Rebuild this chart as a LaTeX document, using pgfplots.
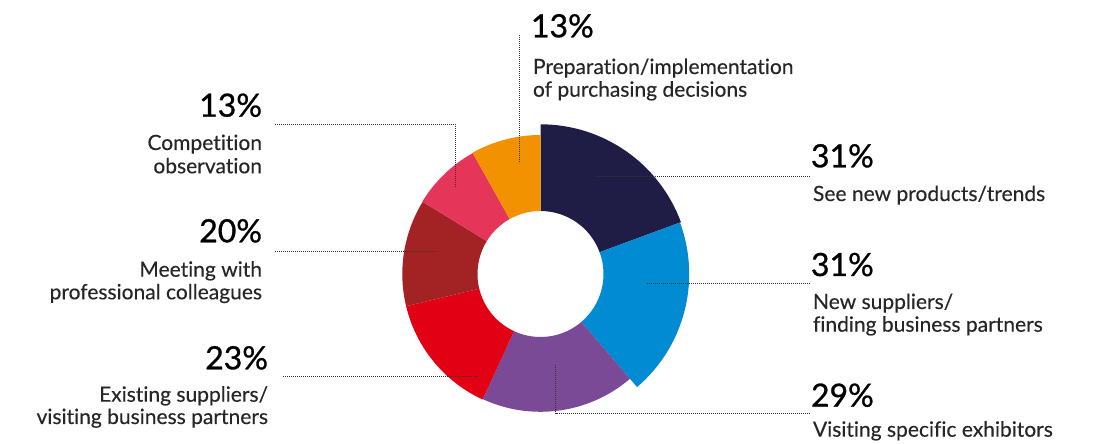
\documentclass[border=0pt]{standalone}
\usepackage{fontspec}
\setmainfont{Lato}[Ligatures={NoCommon,NoRare,NoContextual}]
\newfontfamily\pctfont{Lato}[FakeBold=0.9]
\newfontfamily\lblfont{Lato}[FakeBold=0.25, Ligatures={NoCommon,NoRare,NoContextual}]
\usepackage{pgfplots}
\usepackage{pgfplotstable}
\pgfplotsset{compat=1.18}

\definecolor{cNavy}{RGB}{31,29,70}
\definecolor{cBlue}{RGB}{0,139,210}
\definecolor{cPurple}{RGB}{122,74,151}
\definecolor{cRed}{RGB}{225,0,20}
\definecolor{cDarkRed}{RGB}{163,34,36}
\definecolor{cPink}{RGB}{229,54,90}
\definecolor{cOrange}{RGB}{243,146,0}

% share of respondents (%), outer radius, colour -- clockwise from 12 o'clock
\pgfplotstableread{
name  value r     col
see   31    149.7 cNavy
new   31    148.7 cBlue
visit 29    137.8 cPurple
exist 23    138.2 cRed
meet  20    138.2 cDarkRed
comp  13    138.6 cPink
prep  13    139.0 cOrange
}\slices

\begin{document}
\begin{tikzpicture}
\tikzset{
  leader/.style={black!80, line width=0.9pt, dash pattern=on 0.9pt off 1.1pt},
  pct/.style={inner sep=0pt, outer sep=0pt, font=\pctfont\fontsize{32}{32}\selectfont},
  lbl/.style={inner sep=0pt, outer sep=0pt, text=black!85, font=\lblfont\fontsize{21}{23}\selectfont},
}
\begin{axis}[
    x=1pt, y=1pt,
    xmin=0, xmax=1100, ymin=0, ymax=444,
    axis line style={draw=none},
    xtick=\empty, ytick=\empty,
    clip=false,
]
% donut slices, angles taken from the values (total 160)
\gdef\angA{90}
\pgfplotsinvokeforeach{0,...,6}{%
  \pgfplotstablegetelem{#1}{value}\of\slices \let\slval\pgfplotsretval
  \pgfplotstablegetelem{#1}{r}\of\slices \let\slrad\pgfplotsretval
  \pgfplotstablegetelem{#1}{col}\of\slices \let\slcol\pgfplotsretval
  \pgfmathsetmacro\angB{\angA-\slval*360/160}
  \pgfmathsetmacro\xa{540.5+\slrad*cos(\angA)}
  \pgfmathsetmacro\ya{170+\slrad*sin(\angA)}
  \pgfmathsetmacro\xb{540.5+63*cos(\angB)}
  \pgfmathsetmacro\yb{170+63*sin(\angB)}
  \edef\slice{\noexpand\fill[\slcol] (axis cs:\xa,\ya)
    arc[start angle=\angA, end angle=\angB, radius=\slrad pt]
    -- (axis cs:\xb,\yb)
    arc[start angle=\angB, end angle=\angA, radius=63pt] -- cycle;}
  \slice
  \xdef\angA{\angB}
}

% leader lines
\draw[leader] (axis cs:519,409) -- (axis cs:519,281);
\draw[leader] (axis cs:275,319.7) -- (axis cs:455,319.7) -- (axis cs:455,255.7);
\draw[leader] (axis cs:275,192.3) -- (axis cs:436.7,192.3);
\draw[leader] (axis cs:283,67.3) -- (axis cs:477.3,67.3);
\draw[leader] (axis cs:595,267.3) -- (axis cs:810,267.3);
\draw[leader] (axis cs:646.7,160.7) -- (axis cs:810,160.7);
\draw[leader] (axis cs:555.7,79) -- (axis cs:555.7,30.7) -- (axis cs:810,30.7);

% labels
\node[pct, anchor=base west] at (axis cs:531,406.7) {13\%};
\node[lbl, anchor=base west] at (axis cs:533,370) {Preparation/implementation};
\node[lbl, anchor=base west] at (axis cs:533,347.3) {of purchasing decisions};

\node[pct, anchor=base east] at (axis cs:262,327.3) {13\%};
\node[lbl, anchor=base east] at (axis cs:262,294) {Competition};
\node[lbl, anchor=base east] at (axis cs:262,270.7) {observation};

\node[pct, anchor=base east] at (axis cs:262,201.7) {20\%};
\node[lbl, anchor=base east] at (axis cs:262,167.3) {Meeting with};
\node[lbl, anchor=base east] at (axis cs:262,144.7) {professional colleagues};

\node[pct, anchor=base east] at (axis cs:268,74.7) {23\%};
\node[lbl, anchor=base east] at (axis cs:268,42.3) {Existing suppliers/};
\node[lbl, anchor=base east] at (axis cs:268,20) {visiting business partners};

\node[pct, anchor=base west] at (axis cs:811,276.7) {31\%};
\node[lbl, anchor=base west] at (axis cs:813,243) {See new products/trends};

\node[pct, anchor=base west] at (axis cs:811,168) {31\%};
\node[lbl, anchor=base west] at (axis cs:813,135) {New suppliers/};
\node[lbl, anchor=base west] at (axis cs:813,112.3) {finding business partners};

\node[pct, anchor=base west] at (axis cs:811,37.3) {29\%};
\node[lbl, anchor=base west] at (axis cs:813,7.3) {Visiting specific exhibitors};
\end{axis}
\end{tikzpicture}
\end{document}
